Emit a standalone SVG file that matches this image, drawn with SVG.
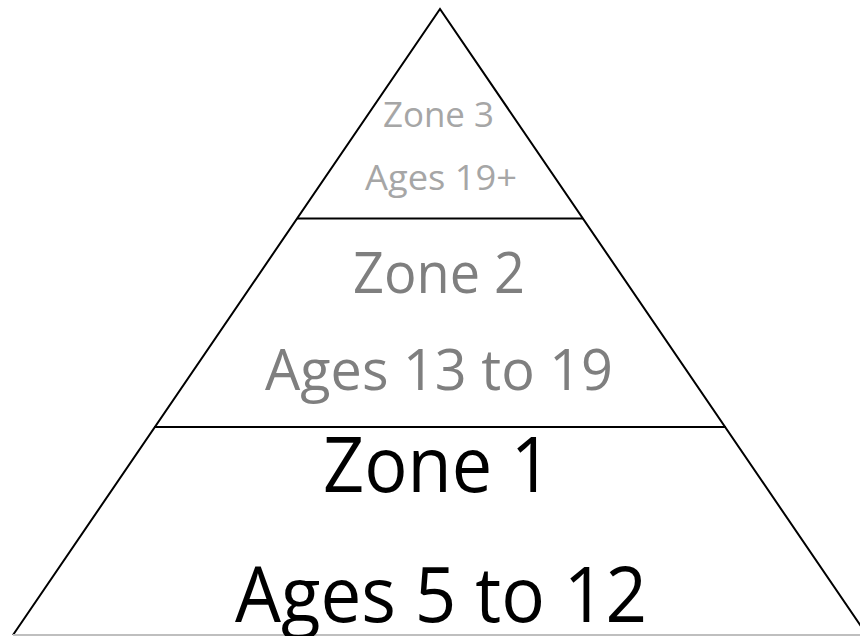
<svg xmlns="http://www.w3.org/2000/svg" width="860" height="636" viewBox="0 0 860 636">
<style>
.edge{stroke:#000;stroke-width:2;fill:none;stroke-linejoin:miter}
.t{font-family:"Open Sans","Noto Sans","Liberation Sans",sans-serif;text-anchor:middle}
.z3{fill:#A6A6A6;font-size:35px}
.z2{fill:#7F7F7F;font-size:56px}
.z1{fill:#000;font-size:77px}
</style>
<rect x="0" y="0" width="860" height="636" fill="#fff"/>
<g id="connectors">
<polyline class="edge" points="13,635 440,9 867,635"/>
<line x1="13" y1="635" x2="860" y2="635" stroke="#BFBFBF" stroke-width="2"/>
</g>
<g id="zone3">
<text class="t z3" x="438.5" y="127" textLength="111" lengthAdjust="spacingAndGlyphs">Zone 3</text>
<text class="t z3" x="441" y="190" textLength="152" lengthAdjust="spacingAndGlyphs">Ages 19+</text>
</g>
<g id="zone2">
<line class="edge" x1="297" y1="218.5" x2="583" y2="218.5"/>
<text class="t z2" x="439" y="293" textLength="172" lengthAdjust="spacingAndGlyphs">Zone 2</text>
<text class="t z2" x="439" y="390" textLength="348" lengthAdjust="spacingAndGlyphs">Ages 13 to 19</text>
</g>
<g id="zone1">
<line class="edge" x1="154" y1="427" x2="726" y2="427"/>
<text class="t z1" x="437.5" y="492" textLength="229" lengthAdjust="spacingAndGlyphs">Zone 1</text>
<text class="t z1" x="441" y="622" textLength="412" lengthAdjust="spacingAndGlyphs">Ages 5 to 12</text>
</g>
</svg>
